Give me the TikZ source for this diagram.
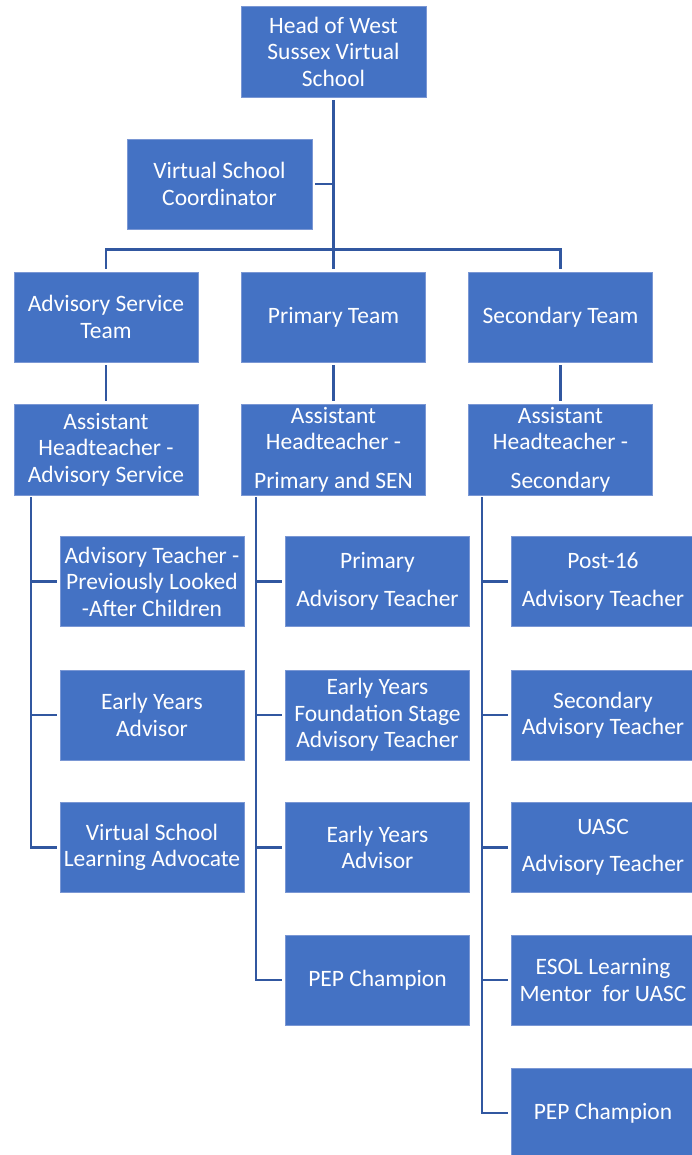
\documentclass[tikz,border=0pt]{standalone}
\usepackage{fontspec}
\setmainfont{Carlito}
\definecolor{boxfill}{HTML}{4472C4}
\definecolor{boxedge}{HTML}{7A97D4}
\definecolor{linkcol}{HTML}{3157A0}
\tikzset{
  orgbox/.style={rectangle, fill=boxfill, draw=boxedge, line width=0.6pt,
    minimum width=184pt, minimum height=90pt, inner sep=0pt, align=center,
    text=white, font=\fontsize{23.5}{26.5}\selectfont},
  link/.style={draw=linkcol, line width=2.5pt}
}
\begin{document}
\begin{tikzpicture}[x=1pt,y=-1pt]
\useasboundingbox (0,0) rectangle (692,1155);
\clip (0,0) rectangle (692,1155);
% top
\node[orgbox, minimum width=185pt, minimum height=91pt] (head) at (333.5,51.5) {Head of West\\Sussex Virtual\\School};
\node[orgbox, minimum width=185pt] (coord) at (219.5,184) {Virtual School\\Coordinator};
% teams
\node[orgbox] (adv) at (106,317) {Advisory Service\\Team};
\node[orgbox] (prim) at (333.5,317) {Primary Team};
\node[orgbox] (sec) at (560.5,317) {Secondary Team};
% assistants
\node[orgbox, minimum height=91pt] (asstA) at (106,449.5) {Assistant\\Headteacher -\\Advisory Service};
\node[orgbox, minimum height=91pt] (asstB) at (333.5,449.5) {Assistant\\Headteacher -\\[12pt]Primary and SEN};
\node[orgbox, minimum height=91pt] (asstC) at (560.5,449.5) {Assistant\\Headteacher -\\[12pt]Secondary};
% left column
\node[orgbox] (a1) at (152,581.5) {Advisory Teacher -\\Previously Looked\\-After Children};
\node[orgbox] (a2) at (152,715) {Early Years\\Advisor};
\node[orgbox] (a3) at (152,847.5) {Virtual School\\Learning Advocate};
% middle column
\node[orgbox] (b1) at (377.5,581.5) {Primary\\[11pt]Advisory Teacher};
\node[orgbox] (b2) at (377.5,715) {Early Years\\Foundation Stage\\Advisory Teacher};
\node[orgbox] (b3) at (377.5,847.5) {Early Years\\Advisor};
\node[orgbox] (b4) at (377.5,980) {PEP Champion};
% right column
\node[orgbox] (c1) at (603,581.5) {Post-16\\[11pt]Advisory Teacher};
\node[orgbox] (c2) at (603,715) {Secondary\\Advisory Teacher};
\node[orgbox] (c3) at (603,847.5) {UASC\\[10pt]Advisory Teacher};
\node[orgbox] (c4) at (603,980) {ESOL Learning\\Mentor\ \ for UASC};
\node[orgbox] (c5) at (603,1113) {PEP Champion};
% connectors top
\draw[link] ([yshift=-3pt]head.south) -- ([yshift=3pt]prim.north);
\draw[link] ([yshift=3pt]adv.north) -- ++(0,-19) -| ([yshift=3pt]sec.north);
\draw[link] ([xshift=3pt]coord.east) -- (coord.east -| head.south);
\draw[link] ([yshift=-3pt]adv.south) -- ([yshift=3pt]asstA.north);
\draw[link] ([yshift=-3pt]prim.south) -- ([yshift=3pt]asstB.north);
\draw[link] ([yshift=-3pt]sec.south) -- ([yshift=3pt]asstC.north);
% columns
\coordinate (colA) at ([xshift=-75pt,yshift=-2pt]asstA.south);
\coordinate (colB) at ([xshift=-77.5pt,yshift=-2pt]asstB.south);
\coordinate (colC) at ([xshift=-78.5pt,yshift=-2pt]asstC.south);
\draw[link] (colA) |- ([xshift=-3pt]a3.west);
\draw[link] (a1.west -| colA) -- ([xshift=-3pt]a1.west);
\draw[link] (a2.west -| colA) -- ([xshift=-3pt]a2.west);
\draw[link] (colB) |- ([xshift=-3pt]b4.west);
\draw[link] (b1.west -| colB) -- ([xshift=-3pt]b1.west);
\draw[link] (b2.west -| colB) -- ([xshift=-3pt]b2.west);
\draw[link] (b3.west -| colB) -- ([xshift=-3pt]b3.west);
\draw[link] (colC) |- ([xshift=-3pt]c5.west);
\draw[link] (c1.west -| colC) -- ([xshift=-3pt]c1.west);
\draw[link] (c2.west -| colC) -- ([xshift=-3pt]c2.west);
\draw[link] (c3.west -| colC) -- ([xshift=-3pt]c3.west);
\draw[link] (c4.west -| colC) -- ([xshift=-3pt]c4.west);
\end{tikzpicture}
\end{document}
